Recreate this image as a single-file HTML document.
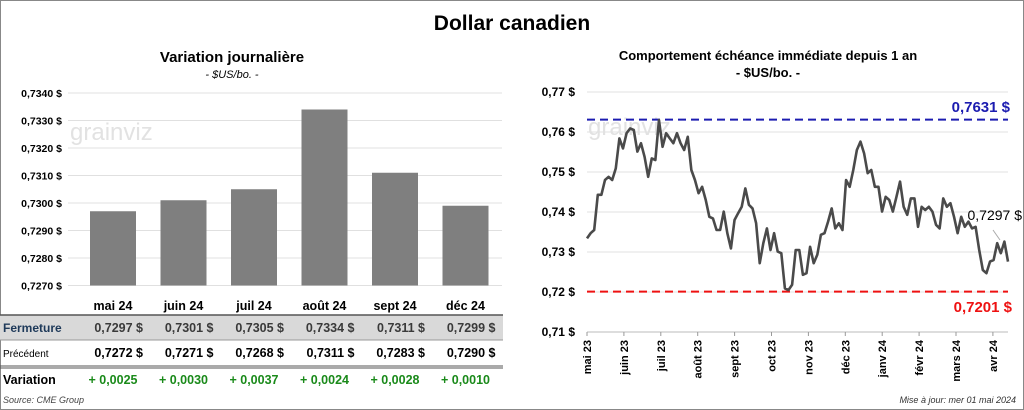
<!DOCTYPE html>
<html><head><meta charset="utf-8"><style>
body{margin:0;width:1024px;height:410px;background:#fff;font-family:"Liberation Sans",sans-serif;overflow:hidden}
#wrap{position:absolute;left:0;top:0;width:1022px;height:408px;border:1px solid #888}
.t{position:absolute;white-space:nowrap}
</style></head><body>
<div id="wrap"></div>
<div class="t" style="left:0;width:1024px;text-align:center;top:12px;font-size:21px;font-weight:bold">Dollar canadien</div>
<svg id="s" width="1024" height="410" style="position:absolute;left:0;top:0"></svg>
<script>
const barCats=["mai 24","juin 24","juil 24","août 24","sept 24","déc 24"];
const closeVals=[0.7297,0.7301,0.7305,0.7334,0.7311,0.7299];
const prevVals=[0.7272,0.7271,0.7268,0.7311,0.7283,0.7290];
const varVals=[0.0025,0.0030,0.0037,0.0024,0.0028,0.0010];
const barTicks=[0.7270,0.7280,0.7290,0.7300,0.7310,0.7320,0.7330,0.7340];
const lineVals=[.7334,.7347,.7355,.7443,.7443,.7480,.7488,.7480,.7509,.7584,.7559,.7597,.7609,.7605,.7551,.7572,.7538,.7488,.7534,.7530,.7630,.7563,.7597,.7584,.7572,.7597,.7572,.7555,.7588,.7505,.7480,.7447,.7463,.7430,.7388,.7384,.7355,.7355,.7401,.7347,.7309,.7380,.7397,.7413,.7459,.7418,.7409,.7372,.7272,.7322,.7359,.7305,.7347,.7301,.7297,.7209,.7205,.7218,.7305,.7305,.7243,.7247,.7313,.7272,.7293,.7343,.7347,.7376,.7409,.7359,.7372,.7355,.7480,.7463,.7505,.7555,.7576,.7547,.7497,.7505,.7463,.7463,.7401,.7438,.7430,.7401,.7438,.7476,.7413,.7393,.7434,.7434,.7363,.7413,.7405,.7413,.7401,.7368,.7359,.7434,.7413,.7422,.7388,.7347,.7388,.7363,.7376,.7359,.7363,.7305,.7255,.7247,.7276,.7280,.7322,.7297,.7326,.7276];
const lineTicks=[0.71,0.72,0.73,0.74,0.75,0.76,0.77];
const monthLabels=["mai 23","juin 23","juil 23","août 23","sept 23","oct 23","nov 23","déc 23","janv 24","févr 24","mars 24","avr 24"];
const maxVal=0.7631,minVal=0.7201,lastVal=0.7297;
const S=document.getElementById('s');const NS='http://www.w3.org/2000/svg';
function el(t,a,txt){const e=document.createElementNS(NS,t);for(const k in a)e.setAttribute(k,a[k]);if(txt!==undefined)e.textContent=txt;S.appendChild(e);return e;}
const fr=v=>v.toFixed(4).replace('.',',');
let e=el('text',{x:232,y:62,'text-anchor':'middle','font-size':15,'font-weight':'bold'},'Variation  journalière');

e=el('text',{x:232,y:78,'text-anchor':'middle','font-size':11,'font-style':'italic'},'- $US/bo. -');

const by=v=>93+(0.7340-v)*27500;
barTicks.forEach(t=>{const g=el('line',{x1:68,x2:502,y1:by(t),y2:by(t),stroke:'#e0e0e0'});

const l=el('text',{x:62,y:by(t)+4,'text-anchor':'end','font-size':10.5,'font-weight':'bold'},fr(t)+' $');
});
e=el('text',{x:70,y:140,'font-size':24,fill:'#e2e2e2'},'grainviz');
const cx=i=>113+i*70.5;
closeVals.forEach((v,i)=>{const b=el('rect',{x:cx(i)-23,y:by(v),width:46,height:by(0.7270)-by(v),fill:'#7f7f7f'});

const c=el('text',{x:cx(i),y:310,'text-anchor':'middle','font-size':12.5,'font-weight':'bold'},barCats[i]);
});
e=el('rect',{x:0,y:315,width:503,height:25,fill:'#d9d9d9'});
[[315,'#555',1.5],[340,'#999',1],[366,'#555',1],[368,'#555',1]].forEach(a=>{const l=el('line',{x1:0,x2:503,y1:a[0],y2:a[0],stroke:a[1],'stroke-width':a[2]});});
e=el('text',{x:3,y:332,'font-size':12,'font-weight':'bold',fill:'#1f3a5a'},'Fermeture');
e=el('text',{x:3,y:357,'font-size':10},'Précédent');
e=el('text',{x:3,y:384,'font-size':12.5,'font-weight':'bold'},'Variation');
closeVals.forEach((v,i)=>{
let t=el('text',{x:cx(i)+30,y:332,'text-anchor':'end','font-size':12.5,'font-weight':'bold',fill:'#3a3a3a'},fr(v)+'  $');
t=el('text',{x:cx(i)+30,y:357,'text-anchor':'end','font-size':12.5,'font-weight':'bold'},fr(prevVals[i])+'  $');
t=el('text',{x:cx(i),y:384,'text-anchor':'middle','font-size':12.5,'font-weight':'bold',fill:'#1a8a1a'},'+ '+fr(varVals[i]));});
e=el('text',{x:3,y:403,'font-size':9,'font-style':'italic',fill:'#444'},'Source: CME Group');
e=el('text',{x:768,y:60,'text-anchor':'middle','font-size':13,'font-weight':'bold'},'Comportement échéance immédiate depuis 1 an');
e=el('text',{x:768,y:77,'text-anchor':'middle','font-size':13,'font-weight':'bold'},'- $US/bo. -');
const ly=v=>92+(0.77-v)*4000;const X0=587,X1=1008;
lineTicks.forEach(t=>{const g=el('line',{x1:X0,x2:X1,y1:ly(t),y2:ly(t),stroke:'#e0e0e0'});
const l=el('text',{x:575,y:ly(t)+4,'text-anchor':'end','font-size':12,'font-weight':'bold'},t.toFixed(2).replace('.',',')+' $');});
e=el('line',{x1:X0,x2:X1,y1:ly(0.71),y2:ly(0.71),stroke:'#bbb'});
e=el('text',{x:588,y:135,'font-size':24,fill:'#e2e2e2'},'grainviz');
const mx=i=>X0+i*36.9;
monthLabels.forEach((m,i)=>{const tk=el('line',{x1:mx(i),x2:mx(i),y1:332,y2:336,stroke:'#999'});
const l=el('text',{x:0,y:0,'text-anchor':'end','font-size':11,'font-weight':'bold',transform:`translate(${mx(i)+4},340) rotate(-90)`},m);});
e=el('line',{x1:X0,x2:X1,y1:ly(maxVal),y2:ly(maxVal),stroke:'#1c1cb0','stroke-width':2,'stroke-dasharray':'8,5'});
e=el('line',{x1:X0,x2:X1,y1:ly(minVal),y2:ly(minVal),stroke:'#ee1111','stroke-width':2,'stroke-dasharray':'8,5'});
e=el('text',{x:1010,y:112,'text-anchor':'end','font-size':15,'font-weight':'bold',fill:'#1c1cb0'},fr(maxVal)+' $');
e=el('text',{x:1012,y:312,'text-anchor':'end','font-size':15,'font-weight':'bold',fill:'#ee1111'},fr(minVal)+' $');
const n=lineVals.length,lx=i=>X0+i*(X1-X0)/(n-1);
e=el('polyline',{points:lineVals.map((v,i)=>lx(i)+','+ly(v)).join(' '),fill:'none',stroke:'#4a4a4a','stroke-width':2.6,'stroke-linejoin':'round'});
e=el('line',{x1:993,y1:230,x2:1000,y2:240,stroke:'#aaa'});
e=el('text',{x:1022,y:220,'text-anchor':'end','font-size':14,fill:'#000'},fr(lastVal)+' $');
e=el('text',{x:1016,y:403,'text-anchor':'end','font-size':9,'font-style':'italic',fill:'#333'},'Mise à jour: mer 01 mai 2024');
</script>
</body></html>
